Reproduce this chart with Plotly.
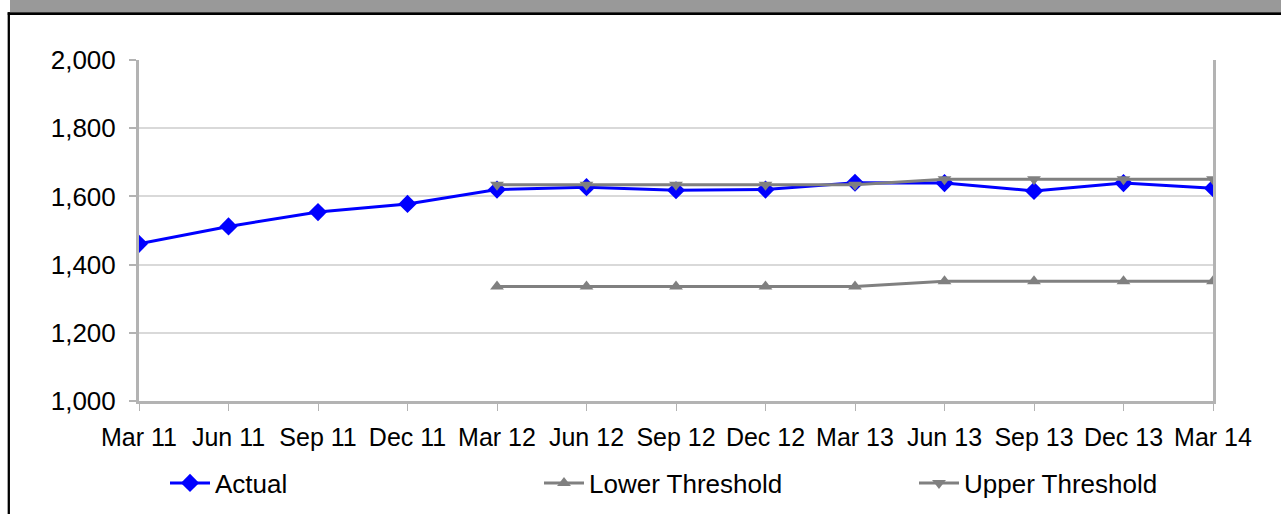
import plotly.graph_objects as go

# Quarterly series
quarters = ["Mar 11", "Jun 11", "Sep 11", "Dec 11", "Mar 12", "Jun 12", "Sep 12",
            "Dec 12", "Mar 13", "Jun 13", "Sep 13", "Dec 13", "Mar 14"]
actual = [1461, 1512, 1554, 1578, 1620, 1627, 1618, 1620, 1640, 1639, 1616, 1639, 1624]
lower_threshold = [None, None, None, None, 1336, 1336, 1336, 1336, 1336, 1351, 1351, 1351, 1351]
upper_threshold = [None, None, None, None, 1634, 1634, 1634, 1634, 1634, 1650, 1650, 1650, 1650]

y_ticks = [1000, 1200, 1400, 1600, 1800, 2000]

FONT = "Liberation Sans, Arial, sans-serif"
GRAY = "#808080"
W, H = 1281, 514
L, R, T, B = 139, 68, 60, 113

fig = go.Figure()
fig.add_trace(go.Scatter(
    x=quarters, y=actual, name="Actual", mode="lines+markers",
    line=dict(color="#0000FF", width=3),
    marker=dict(symbol="diamond", size=14, color="#0000FF"),
    legend="legend",
))
fig.add_trace(go.Scatter(
    x=quarters, y=lower_threshold, name="Lower Threshold", mode="lines+markers",
    line=dict(color=GRAY, width=3),
    marker=dict(symbol="triangle-up", size=12, color=GRAY),
    legend="legend2",
))
fig.add_trace(go.Scatter(
    x=quarters, y=upper_threshold, name="Upper Threshold", mode="lines+markers",
    line=dict(color=GRAY, width=3),
    marker=dict(symbol="triangle-down", size=12, color=GRAY),
    legend="legend3",
))

pw, ph = W - L - R, H - T - B


def px_x(p):
    return (p - L) / pw


def px_y(p):
    return (H - B - p) / ph


# Header band, its rule and the left frame line
fig.update_layout(shapes=[
    dict(type="rect", xref="paper", yref="paper", x0=px_x(10), x1=px_x(W),
         y0=px_y(12.3), y1=px_y(0), fillcolor="#999999", line=dict(width=0), layer="above"),
    dict(type="line", xref="paper", yref="paper", x0=px_x(7.7), x1=px_x(W),
         y0=px_y(13.6), y1=px_y(13.6), line=dict(color="#000000", width=2.7), layer="above"),
    dict(type="line", xref="paper", yref="paper", x0=px_x(8.8), x1=px_x(8.8),
         y0=px_y(H), y1=px_y(12.3), line=dict(color="#000000", width=2.3), layer="above"),
])


def legend_at(x_px):
    return dict(
        orientation="h", xref="container", yref="container",
        x=x_px / W, y=1 - 483 / H, xanchor="left", yanchor="middle",
        itemwidth=40, font=dict(family=FONT, size=26, color="#000000"),
        bgcolor="rgba(0,0,0,0)", borderwidth=0,
    )


fig.update_layout(
    width=W, height=H,
    margin=dict(l=L, r=R, t=T, b=B, autoexpand=False),
    paper_bgcolor="white", plot_bgcolor="white",
    font=dict(family=FONT, size=26, color="#000000"),
    showlegend=True,
    legend=legend_at(165),
    legend2=legend_at(539),
    legend3=legend_at(914),
    xaxis=dict(
        type="category", range=[0, len(quarters) - 1],
        showgrid=False, zeroline=False,
        showline=True, linecolor="#B3B3B3", linewidth=3,
        ticks="outside", ticklen=7, tickwidth=1, tickcolor="#B3B3B3",
        ticklabelstandoff=5,
        tickfont=dict(family=FONT, size=25, color="#000000"),
        fixedrange=True,
    ),
    yaxis=dict(
        range=[1000, 2000], tickvals=y_ticks, tickformat=",",
        showgrid=True, gridcolor="#D9D9D9", gridwidth=2,
        zeroline=False,
        showline=True, linecolor="#B3B3B3", linewidth=3, mirror=True,
        ticks="outside", ticklen=7, tickwidth=2, tickcolor="#B3B3B3",
        ticklabelstandoff=8,
        tickfont=dict(family=FONT, size=26, color="#000000"),
        fixedrange=True,
    ),
)

fig.write_html("out.html", config={"displayModeBar": False})
